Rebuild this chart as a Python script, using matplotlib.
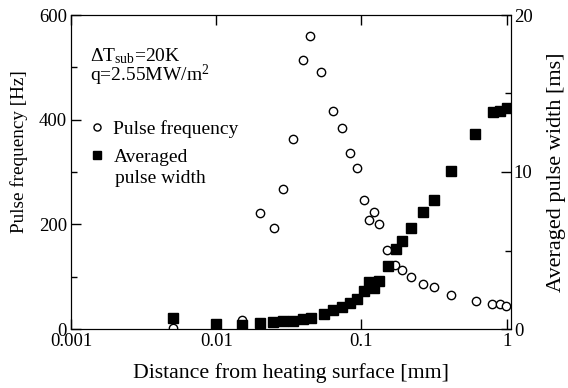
"""Pulse frequency and averaged pulse width vs distance from heating surface."""

import matplotlib

matplotlib.use("Agg")
import matplotlib.pyplot as plt
from matplotlib.ticker import FixedLocator, MultipleLocator, NullLocator

plt.rcParams["font.family"] = ["Liberation Serif", "DejaVu Serif"]
plt.rcParams["mathtext.fontset"] = "custom"
plt.rcParams["mathtext.rm"] = "Liberation Serif"
plt.rcParams["mathtext.it"] = "Liberation Serif:italic"

# pulse frequency [Hz]
freq_x = [0.005, 0.01, 0.015, 0.02, 0.025, 0.029, 0.034, 0.0395, 0.044, 0.053,
          0.064, 0.073, 0.083, 0.093, 0.104, 0.113, 0.122, 0.132, 0.15, 0.17,
          0.19, 0.219, 0.265, 0.316, 0.414, 0.616, 0.794, 0.9, 0.99]
freq_y = [2, 2, 17, 222, 193, 268, 363, 514, 560, 491,
          417, 384, 336, 308, 246, 208, 224, 201, 151, 122,
          113, 99, 86, 81, 65, 53, 48, 48, 44]

# averaged pulse width [ms]
width_x = [0.005, 0.01, 0.015, 0.02, 0.0245, 0.029, 0.034, 0.0395, 0.045, 0.055,
           0.064, 0.073, 0.083, 0.093, 0.104, 0.113, 0.122, 0.132, 0.152, 0.172,
           0.19, 0.219, 0.265, 0.316, 0.414, 0.6, 0.81, 0.9, 1.0]
width_y = [0.70, 0.32, 0.25, 0.38, 0.45, 0.51, 0.51, 0.64, 0.70, 0.96,
           1.21, 1.40, 1.66, 1.91, 2.42, 2.99, 2.61, 3.06, 4.01, 5.10,
           5.61, 6.43, 7.45, 8.22, 10.06, 12.4, 13.8, 13.9, 14.1]

x_ticks = [0.001, 0.01, 0.1, 1]
x_tick_labels = ["0.001", "0.01", "0.1", "1"]

fig = plt.figure(figsize=(5.68, 3.88), dpi=100)
ax = fig.add_axes([71 / 568, 1 - 329 / 388, (511 - 71) / 568, (329 - 15) / 388])
ax2 = ax.twinx()

ax.plot(freq_x, freq_y, "o", markerfacecolor="white", markeredgecolor="black",
        markeredgewidth=1.0, markersize=6, linestyle="none", label="Pulse frequency")
ax2.plot(width_x, width_y, "s", color="black", markersize=6.5, linestyle="none",
         label="Averaged")

ax.set_xscale("log")
ax.set_xlim(0.001, 1.07)
ax.set_ylim(0, 600)
ax2.set_ylim(0, 20)
ax.xaxis.set_major_locator(FixedLocator(x_ticks))
ax.set_xticklabels(x_tick_labels)
ax.xaxis.set_minor_locator(NullLocator())
ax.yaxis.set_major_locator(MultipleLocator(200))
ax.yaxis.set_minor_locator(MultipleLocator(100))
ax2.yaxis.set_major_locator(MultipleLocator(10))
ax2.yaxis.set_minor_locator(MultipleLocator(5))

ax.tick_params(which="both", direction="in", top=True, labelsize=13.5, pad=3)
ax.tick_params(which="major", length=7, width=1)
ax.tick_params(which="minor", length=4, width=1)
ax2.tick_params(which="both", direction="in", labelsize=13.5, pad=2)
ax2.tick_params(which="major", length=7, width=1)
ax2.tick_params(which="minor", length=4, width=1)

ax.set_xlabel("Distance from heating surface [mm]", fontsize=15.7, labelpad=9)
ax.set_ylabel("Pulse frequency [Hz]", fontsize=13.8)
ax.yaxis.set_label_coords(-0.098, 0.564)
ax2.set_ylabel("Averaged pulse width [ms]", fontsize=16, labelpad=10.5)

ax.text(0.043, 0.9, "$\\Delta$T$_{\\rm sub}$=20K\nq=2.55MW/m$^2$",
        transform=ax.transAxes, fontsize=14, va="top", ha="left", linespacing=0.8)

h1, l1 = ax.get_legend_handles_labels()
h2, l2 = ax2.get_legend_handles_labels()
ax2.legend(h1 + h2, l1 + l2, loc="upper left", bbox_to_anchor=(0.008, 0.71),
           frameon=False, fontsize=14, handlelength=0.9, handletextpad=0.4,
           labelspacing=0.55, borderaxespad=0.3, markerscale=0.85)
# second line of the pulse-width legend entry, aligned under "Averaged"
ax2.text(0.099, 0.48, "pulse width", transform=ax2.transAxes, fontsize=14,
         va="center", ha="left")

fig.savefig("out.png", dpi=100)
